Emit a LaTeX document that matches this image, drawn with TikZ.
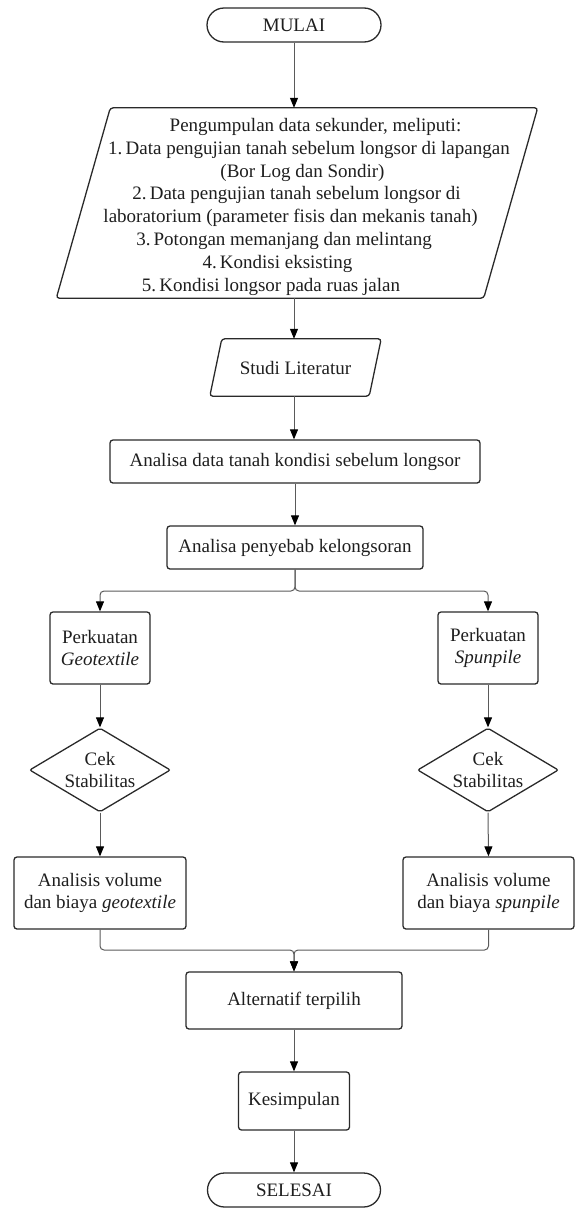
\documentclass[tikz,border=0pt]{standalone}
\usepackage{fontspec}
\setmainfont{Liberation Serif}
\usetikzlibrary{shapes.geometric,arrows.meta,calc}
\definecolor{bord}{HTML}{2A2A2A}
\definecolor{lin}{HTML}{5A5A5A}
\definecolor{txt}{HTML}{1E1E1E}
\begin{document}
\begin{tikzpicture}[x=1pt,y=-1pt,
  every node/.style={font=\fontsize{19}{22.8}\selectfont, text=txt},
  box/.style={draw=bord, line width=1.3pt, rounded corners=3pt, align=center, inner sep=0pt},
  dia/.style={diamond, draw=bord, line width=1.3pt, rounded corners=2pt, align=center, inner sep=0pt, aspect=1.68, minimum width=141pt, minimum height=84pt},
  shapeline/.style={draw=bord, line width=1.3pt, rounded corners=3pt},
  conn/.style={draw=lin, line width=1pt, rounded corners=4pt},
  arr/.style={conn, -{Triangle[length=10pt,width=8pt,color=black]}}
]
\useasboundingbox (0,0) rectangle (576,1213);

\node[box, rounded corners=17pt, minimum width=174pt, minimum height=34pt] (mulai) at (294,25) {MULAI};

\node[minimum width=427pt, minimum height=190pt, inner sep=0pt] (pg) at (297,203) {};
\draw[shapeline] ([xshift=27pt]pg.north west) -- ([xshift=27pt]pg.north east) -- ([xshift=-27pt]pg.south east) -- ([xshift=-27pt]pg.south west) -- cycle;
\node (t1) at (315.5,127) {Pengumpulan data sekunder, meliputi:};
\node (t2) at (309,150) {1.\,Data pengujian tanah sebelum longsor di lapangan};
\node (t3) at (302.5,172.5) {(Bor Log dan Sondir)};
\node (t4) at (296.5,195) {2.\,Data pengujian tanah sebelum longsor di};
\node (t5) at (290.5,218) {laboratorium (parameter fisis dan mekanis tanah)};
\node (t6) at (284,241) {3.\,Potongan memanjang dan melintang};
\node (t7) at (277.5,264) {4.\,Kondisi eksisting};
\node (t8) at (271,287) {5.\,Kondisi longsor pada ruas jalan};

\node[minimum width=159pt, minimum height=57pt, inner sep=0pt] (st) at (295.5,367.5) {Studi Literatur};
\draw[shapeline] ([xshift=6pt]st.north west) -- ([xshift=6pt]st.north east) -- ([xshift=-6pt]st.south east) -- ([xshift=-6pt]st.south west) -- cycle;

\node[box, minimum width=370pt, minimum height=43pt] (ad) at (295,461.5) {Analisa data tanah kondisi sebelum longsor};
\node[box, minimum width=256pt, minimum height=43pt] (ap) at (295,547.5) {Analisa penyebab kelongsoran};

\node[box, minimum width=100pt, minimum height=72pt] (gk) at (100,648) {Perkuatan\\\textit{Geotextile}};
\node[box, minimum width=100pt, minimum height=72pt] (sk) at (488,648) {Perkuatan\\\textit{Spunpile}};

\node[dia] (dg) at (100,770) {Cek\\Stabilitas};
\node[dia] (ds) at (488,770) {Cek\\Stabilitas};

\node[box, minimum width=172pt, minimum height=72pt] (ag) at (100,893) {Analisis volume\\dan biaya \textit{geotextile}};
\node[box, minimum width=171pt, minimum height=72pt] (as) at (488.5,893) {Analisis volume\\dan biaya \textit{spunpile}};

\node[box, minimum width=216pt, minimum height=57pt] (alt) at (294,1000.5) {Alternatif terpilih};
\node[box, minimum width=111pt, minimum height=58pt] (ks) at (294,1101) {Kesimpulan};
\node[box, rounded corners=17pt, minimum width=173pt, minimum height=34pt] (sel) at (294,1190) {SELESAI};

\coordinate (split) at (295,591);
\coordinate (merge) at (294,950);

\draw[arr] (mulai.south) -- (mulai.south |- pg.north);
\draw[arr] (mulai.south |- pg.south) -- (mulai.south |- st.north);
\draw[arr] (mulai.south |- st.south) -- (mulai.south |- ad.north);
\draw[arr] (ad.south) -- (ap.north);
\draw[arr] (ap.south) -- (split) -| (gk.north);
\draw[arr] (ap.south) -- (split) -| (sk.north);
\draw[arr] (gk.south) -- (dg.north);
\draw[arr] (sk.south) -- (ds.north);
\draw[arr] (dg.south) -- (ag.north);
\draw[arr] (ds.south) -- (as.north);
\draw[arr] (ag.south) |- (merge) -- (alt.north);
\draw[arr] (as.south) |- (merge) -- (alt.north);
\draw[arr] (alt.south) -- (ks.north);
\draw[arr] (ks.south) -- (sel.north);
\end{tikzpicture}
\end{document}
